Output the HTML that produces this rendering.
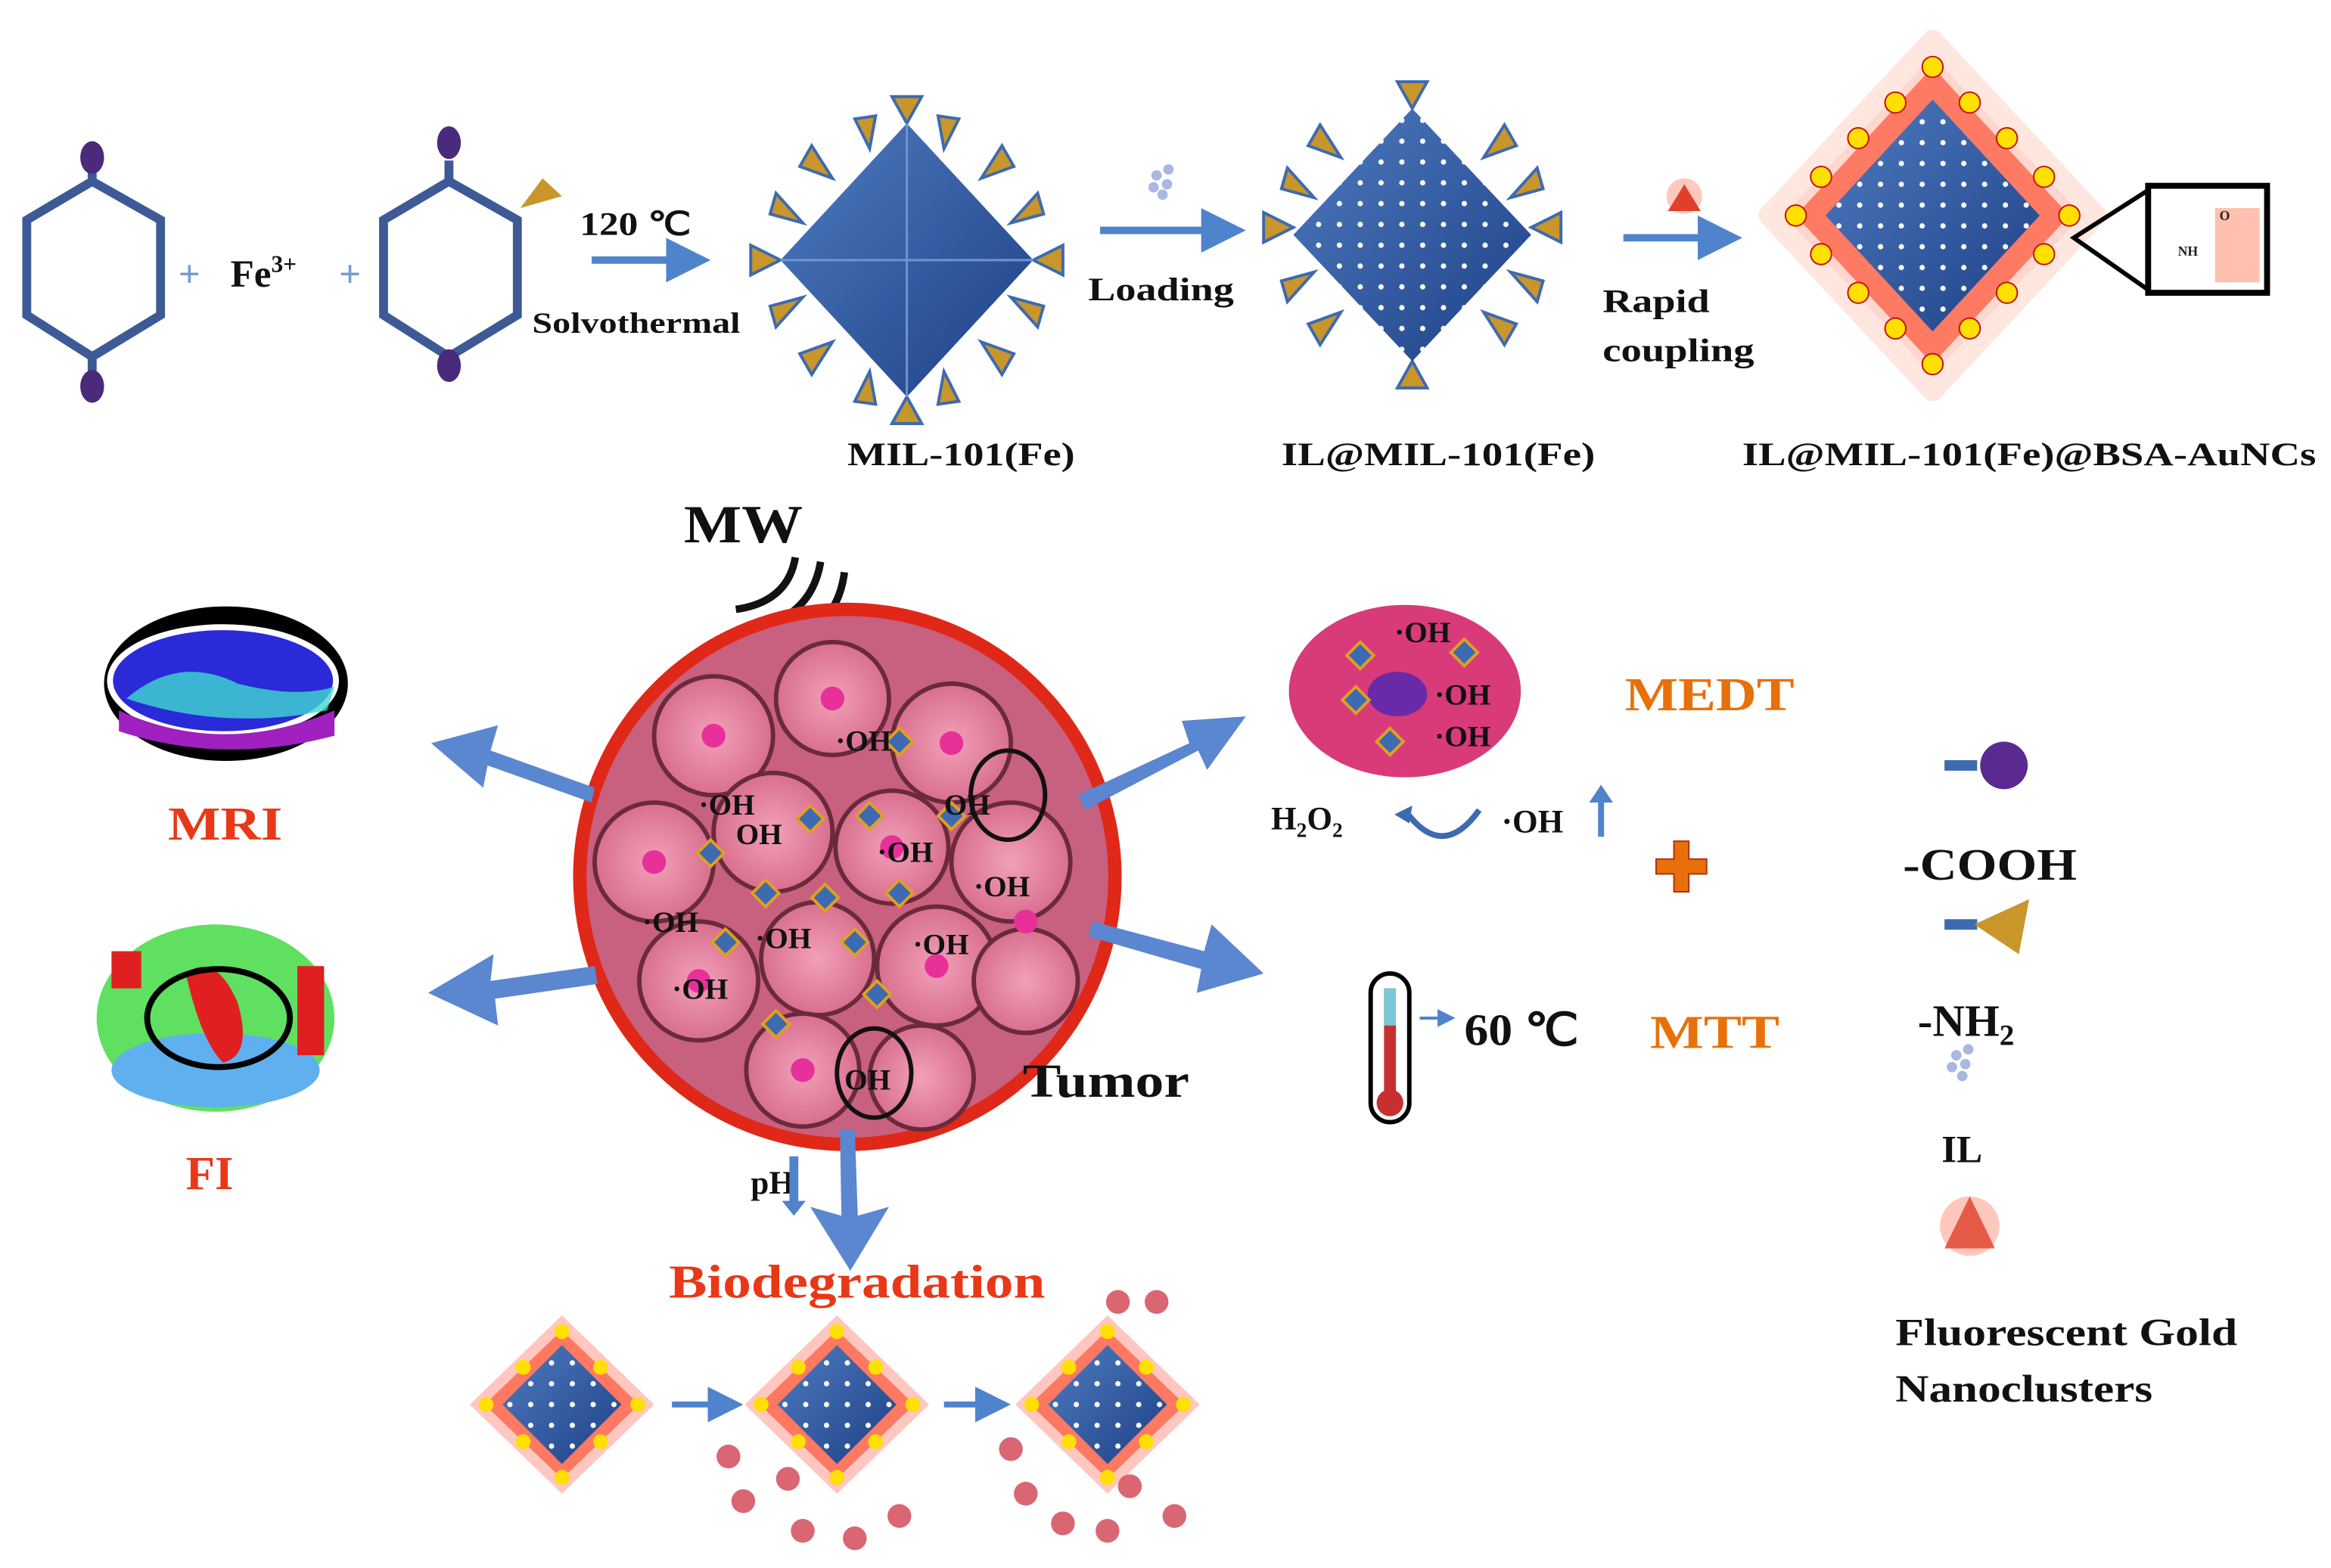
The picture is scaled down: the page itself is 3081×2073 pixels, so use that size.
<!DOCTYPE html>
<html><head><meta charset="utf-8"><style>
html,body{margin:0;padding:0;background:#fff;}
svg{display:block;}
text{font-family:"Liberation Serif",serif;font-weight:bold;}
</style></head><body>
<svg width="3081" height="2073" viewBox="0 0 1568 1055" xmlns="http://www.w3.org/2000/svg">
<defs>
<linearGradient id="oct" x1="0" y1="0" x2="1" y2="1">
<stop offset="0" stop-color="#4f7cc0"/><stop offset="1" stop-color="#1d3f86"/></linearGradient>
<radialGradient id="cell"><stop offset="0" stop-color="#f2a0b8"/><stop offset="1" stop-color="#d86f8f"/></radialGradient>
<pattern id="dots" width="14" height="14" patternUnits="userSpaceOnUse"><circle cx="7" cy="7" r="1.8" fill="#fff"/></pattern>
<marker id="ah" markerWidth="6" markerHeight="6" refX="4" refY="3" orient="auto"><path d="M0,0 L6,3 L0,6 z" fill="#4f83cc"/></marker>
</defs>

<g fill="none" stroke="#3d5a96" stroke-width="6">
<path d="M62,122 L108,148 L108,212 L62,240 L18,212 L18,148 Z"/>
<line x1="62" y1="108" x2="62" y2="122"/><line x1="62" y1="240" x2="62" y2="256"/>
<path d="M302,122 L348,148 L348,212 L302,240 L258,212 L258,148 Z"/>
<line x1="302" y1="108" x2="302" y2="122"/><line x1="302" y1="240" x2="302" y2="256"/>
</g>
<g fill="#4a2a7a"><ellipse cx="62" cy="106" rx="8" ry="11"/><ellipse cx="62" cy="260" rx="8" ry="11"/>
<ellipse cx="302" cy="96" rx="8" ry="11"/><ellipse cx="302" cy="246" rx="8" ry="11"/></g>
<path d="M350,140 L365,120 L378,132 Z" fill="#c8962a"/>
<text x="120" y="193" font-size="26" fill="#7a9ad0" font-weight="normal">+</text>
<text x="155" y="193" font-size="26" fill="#111">Fe<tspan font-size="16" dy="-10">3+</tspan></text>
<text x="228" y="193" font-size="26" fill="#7a9ad0" font-weight="normal">+</text>
<text x="390" y="158" font-size="22" fill="#111" textLength="75" lengthAdjust="spacingAndGlyphs">120 ℃</text>
<line x1="398" y1="175" x2="468" y2="175" stroke="#4f83cc" stroke-width="5" marker-end="url(#ah)"/>
<text x="358" y="224" font-size="20" fill="#111" textLength="140" lengthAdjust="spacingAndGlyphs">Solvothermal</text>

<g transform="translate(610,175)">
<g stroke="#3d6ab0" stroke-width="2" fill="#c8962a">
<path d="M-85,0 l-20,-10 l0,20 z"/><path d="M85,0 l20,-10 l0,20 z"/><path d="M0,-92 l-10,-18 l20,0 z"/><path d="M0,92 l-10,18 l20,0 z"/>
<path d="M-50,-55 l-22,-8 l8,-14 z"/><path d="M50,-55 l22,-8 l-8,-14 z"/><path d="M-50,55 l-22,8 l8,14 z"/><path d="M50,55 l22,8 l-8,14 z"/>
<path d="M-70,-25 l-22,-6 l4,-14 z"/><path d="M70,-25 l22,-6 l-4,-14 z"/><path d="M-70,25 l-22,6 l4,14 z"/><path d="M70,25 l22,6 l-4,14 z"/>
<path d="M-25,-75 l-10,-20 l14,-2 z"/><path d="M25,-75 l10,-20 l-14,-2 z"/><path d="M-25,75 l-10,20 l14,2 z"/><path d="M25,75 l10,20 l-14,2 z"/>
</g>
<path d="M0,-92 L85,0 L0,92 L-85,0 Z" fill="url(#oct)"/>
<path d="M0,-92 L0,92 M-85,0 L85,0" stroke="#6d95d6" stroke-width="1.5"/>
</g>
<text x="570" y="313" font-size="22" fill="#111" textLength="153" lengthAdjust="spacingAndGlyphs">MIL-101(Fe)</text>
<g fill="#a8b8e0"><circle cx="778" cy="118" r="3.5"/><circle cx="785" cy="124" r="3.5"/><circle cx="776" cy="126" r="3.5"/><circle cx="786" cy="114" r="3.5"/><circle cx="782" cy="131" r="3.5"/></g>
<line x1="740" y1="155" x2="828" y2="155" stroke="#4f83cc" stroke-width="5" marker-end="url(#ah)"/>
<text x="732" y="202" font-size="22" fill="#111" textLength="98" lengthAdjust="spacingAndGlyphs">Loading</text>

<g transform="translate(950,158)">
<g stroke="#3d6ab0" stroke-width="2" fill="#c8962a">
<path d="M-80,-5 l-20,-10 l0,20 z"/><path d="M80,-5 l20,-10 l0,20 z"/><path d="M0,-85 l-10,-18 l20,0 z"/><path d="M0,85 l-10,18 l20,0 z"/>
<path d="M-48,-52 l-22,-8 l8,-14 z"/><path d="M48,-52 l22,-8 l-8,-14 z"/><path d="M-48,52 l-22,8 l8,14 z"/><path d="M48,52 l22,8 l-8,14 z"/>
<path d="M-66,-25 l-22,-6 l4,-14 z"/><path d="M66,25 l22,6 l-4,14 z"/><path d="M-66,25 l-22,6 l4,14 z"/><path d="M66,-25 l22,-6 l-4,-14 z"/>
</g>
<path d="M0,-85 L80,0 L0,85 L-80,0 Z" fill="url(#oct)"/>
<path d="M0,-85 L80,0 L0,85 L-80,0 Z" fill="url(#dots)"/>
</g>
<text x="862" y="313" font-size="22" fill="#111" textLength="211" lengthAdjust="spacingAndGlyphs">IL@MIL-101(Fe)</text>
<g><circle cx="1133" cy="132" r="12" fill="#ffb0a0" opacity="0.7"/><path d="M1122,142 L1133,124 L1144,142 Z" fill="#e0402a"/></g>
<line x1="1092" y1="160" x2="1162" y2="160" stroke="#4f83cc" stroke-width="5" marker-end="url(#ah)"/>
<text x="1078" y="210" font-size="22" fill="#111" textLength="72" lengthAdjust="spacingAndGlyphs">Rapid</text>
<text x="1078" y="243" font-size="22" fill="#111" textLength="102" lengthAdjust="spacingAndGlyphs">coupling</text>

<g transform="translate(1300,145)">
<path d="M0,-118 L110,0 L0,118 L-110,0 Z" fill="#ffb0a0" opacity="0.5" stroke="#ffd0c0" stroke-width="14" stroke-linejoin="round"/>
<path d="M0,-100 L92,0 L0,100 L-92,0 Z" fill="#ff6a50" opacity="0.85"/>
<path d="M0,-78 L72,0 L0,78 L-72,0 Z" fill="url(#oct)"/>
<path d="M0,-78 L72,0 L0,78 L-72,0 Z" fill="url(#dots)"/>
<g fill="#ffe000" stroke="#c81010" stroke-width="1">
<circle cx="0" cy="-100" r="7"/><circle cx="-25" cy="-76" r="7"/><circle cx="25" cy="-76" r="7"/><circle cx="-50" cy="-52" r="7"/><circle cx="50" cy="-52" r="7"/><circle cx="-75" cy="-26" r="7"/><circle cx="75" cy="-26" r="7"/><circle cx="-92" cy="0" r="7"/><circle cx="92" cy="0" r="7"/>
<circle cx="0" cy="100" r="7"/><circle cx="-25" cy="76" r="7"/><circle cx="25" cy="76" r="7"/><circle cx="-50" cy="52" r="7"/><circle cx="50" cy="52" r="7"/><circle cx="-75" cy="26" r="7"/><circle cx="75" cy="26" r="7"/>
</g>
</g>
<path d="M1395,160 L1445,128 L1445,195 Z" fill="none" stroke="#000" stroke-width="3"/>
<rect x="1445" y="125" width="80" height="72" fill="#fff" stroke="#000" stroke-width="4"/>
<rect x="1490" y="140" width="30" height="50" fill="#ffc0b0"/>
<text x="1465" y="172" font-size="9" fill="#222">NH</text><text x="1493" y="148" font-size="9" fill="#222">O</text>
<text x="1172" y="313" font-size="22" fill="#111" textLength="386" lengthAdjust="spacingAndGlyphs">IL@MIL-101(Fe)@BSA-AuNCs</text>

<text x="460" y="365" font-size="36" fill="#111" textLength="80" lengthAdjust="spacingAndGlyphs">MW</text>
<g fill="none" stroke="#111" stroke-width="5">
<path d="M495,410 Q530,405 535,375"/><path d="M495,425 Q545,420 552,378"/><path d="M495,442 Q562,435 568,385"/></g>

<circle cx="570" cy="590" r="180" fill="#c86080" stroke="#e02818" stroke-width="9"/>
<g fill="url(#cell)" stroke="#6a2a3a" stroke-width="3">
<circle cx="480" cy="495" r="40"/><circle cx="560" cy="470" r="38"/><circle cx="640" cy="500" r="40"/><circle cx="440" cy="580" r="40"/>
<circle cx="520" cy="560" r="40"/><circle cx="600" cy="570" r="38"/><circle cx="680" cy="580" r="40"/><circle cx="470" cy="660" r="40"/>
<circle cx="550" cy="645" r="38"/><circle cx="630" cy="650" r="40"/><circle cx="690" cy="660" r="35"/><circle cx="540" cy="720" r="38"/><circle cx="620" cy="725" r="35"/>
</g>
<g fill="#e8309a"><circle cx="480" cy="495" r="8"/><circle cx="560" cy="470" r="8"/><circle cx="640" cy="500" r="8"/><circle cx="440" cy="580" r="8"/><circle cx="600" cy="570" r="8"/><circle cx="470" cy="660" r="8"/><circle cx="630" cy="650" r="8"/><circle cx="540" cy="720" r="8"/><circle cx="690" cy="620" r="8"/></g>
<g fill="#3d6ab0" stroke="#e0a020" stroke-width="2">
<path d="M545,542 l9,9 l-9,9 l-9,-9z"/><path d="M585,540 l9,9 l-9,9 l-9,-9z"/><path d="M478,565 l9,9 l-9,9 l-9,-9z"/><path d="M515,592 l9,9 l-9,9 l-9,-9z"/><path d="M555,595 l9,9 l-9,9 l-9,-9z"/><path d="M605,592 l9,9 l-9,9 l-9,-9z"/><path d="M488,625 l9,9 l-9,9 l-9,-9z"/><path d="M575,625 l9,9 l-9,9 l-9,-9z"/><path d="M590,660 l9,9 l-9,9 l-9,-9z"/><path d="M522,680 l9,9 l-9,9 l-9,-9z"/><path d="M605,490 l9,9 l-9,9 l-9,-9z"/><path d="M640,540 l9,9 l-9,9 l-9,-9z"/>
</g>
<g font-size="20" fill="#111"><text x="562" y="505">·OH</text><text x="470" y="548">·OH</text><text x="495" y="568">OH</text><text x="590" y="580">·OH</text><text x="635" y="548">OH</text><text x="655" y="603">·OH</text><text x="432" y="627">·OH</text><text x="508" y="638">·OH</text><text x="614" y="642">·OH</text><text x="452" y="672">·OH</text><text x="568" y="733">OH</text></g>
<ellipse cx="678" cy="535" rx="25" ry="30" fill="none" stroke="#111" stroke-width="3"/>
<ellipse cx="588" cy="722" rx="25" ry="30" fill="none" stroke="#111" stroke-width="3"/>
<text x="688" y="738" font-size="32" fill="#111" textLength="112" lengthAdjust="spacingAndGlyphs">Tumor</text>

<g fill="#5b86d0">
<path d="M400,530 L330,505 L335,488 L290,500 L325,530 L328,515 L398,540 Z"/>
<path d="M400,650 L330,660 L332,642 L288,668 L335,690 L333,672 L402,662 Z"/>
<path d="M725,535 L800,500 L795,485 L838,482 L812,518 L806,505 L730,545 Z"/>
<path d="M735,620 L810,640 L815,622 L850,655 L805,668 L808,652 L732,630 Z"/>
<path d="M565,760 L575,760 L577,818 L598,812 L572,855 L545,812 L566,818 Z"/>
</g>

<ellipse cx="152" cy="460" rx="82" ry="52" fill="#000"/>
<ellipse cx="150" cy="458" rx="76" ry="36" fill="#2a2ad8" stroke="#fff" stroke-width="4"/>
<path d="M85,470 Q120,440 160,460 Q200,470 225,462 L220,478 Q150,492 85,470Z" fill="#40d8d0" opacity="0.8"/>
<path d="M80,478 Q150,510 225,478 L225,495 Q150,515 80,492Z" fill="#a020c0"/>
<text x="113" y="565" font-size="32" fill="#e83818" textLength="77" lengthAdjust="spacingAndGlyphs">MRI</text>
<ellipse cx="145" cy="685" rx="80" ry="63" fill="#60e060"/>
<ellipse cx="145" cy="720" rx="70" ry="25" fill="#60b0f0"/>
<path d="M125,655 Q145,640 160,675 Q170,710 150,715 Q135,700 125,655Z" fill="#e02020"/>
<rect x="75" y="640" width="20" height="25" fill="#e02020"/><rect x="200" y="650" width="18" height="60" fill="#e02020"/>
<ellipse cx="147" cy="685" rx="48" ry="33" fill="none" stroke="#000" stroke-width="4"/>
<text x="125" y="800" font-size="32" fill="#e83818">FI</text>

<ellipse cx="945" cy="465" rx="78" ry="58" fill="#d83a7a"/>
<ellipse cx="940" cy="467" rx="20" ry="15" fill="#6a2aa8"/>
<g fill="#3d6ab0" stroke="#e0a020" stroke-width="2"><path d="M915,432 l9,9 l-9,9 l-9,-9z"/><path d="M985,430 l9,9 l-9,9 l-9,-9z"/><path d="M912,462 l9,9 l-9,9 l-9,-9z"/><path d="M935,490 l9,9 l-9,9 l-9,-9z"/></g>
<g font-size="20" fill="#111"><text x="938" y="432">·OH</text><text x="965" y="474">·OH</text><text x="965" y="502">·OH</text></g>
<text x="1093" y="478" font-size="32" fill="#e8700a" textLength="114" lengthAdjust="spacingAndGlyphs">MEDT</text>
<text x="855" y="558" font-size="22" fill="#111">H<tspan font-size="14" dy="5">2</tspan><tspan dy="-5">O</tspan><tspan font-size="14" dy="5">2</tspan></text>
<path d="M945,545 Q970,580 995,545" fill="none" stroke="#3d6ab0" stroke-width="4"/>
<path d="M938,548 l12,-6 l-2,12z" fill="#3d6ab0"/>
<text x="1010" y="560" font-size="22" fill="#111">·OH</text>
<path d="M1075,563 L1075,540 L1069,540 L1077,528 L1085,540 L1079,540 L1079,563Z" fill="#4f83cc"/>
<path d="M1114,578 h12 v-12 h10 v12 h12 v10 h-12 v12 h-10 v-12 h-12z" fill="#e8700a" stroke="#b03010" stroke-width="1"/>
<rect x="922" y="655" width="26" height="100" rx="13" fill="#fff" stroke="#000" stroke-width="3"/>
<rect x="931" y="665" width="8" height="70" fill="#c83030"/><rect x="931" y="665" width="8" height="25" fill="#7ac8d8"/>
<circle cx="935" cy="742" r="9" fill="#c83030"/>
<line x1="955" y1="685" x2="975" y2="685" stroke="#4f83cc" stroke-width="2" marker-end="url(#ah)"/>
<text x="985" y="703" font-size="30" fill="#111" textLength="77" lengthAdjust="spacingAndGlyphs">60 ℃</text>
<text x="1110" y="705" font-size="32" fill="#e8700a" textLength="87" lengthAdjust="spacingAndGlyphs">MTT</text>

<line x1="1308" y1="515" x2="1330" y2="515" stroke="#3d6ab0" stroke-width="7"/>
<circle cx="1348" cy="515" r="16" fill="#5a2a90"/>
<text x="1280" y="592" font-size="30" fill="#111" textLength="117" lengthAdjust="spacingAndGlyphs">-COOH</text>
<line x1="1308" y1="622" x2="1330" y2="622" stroke="#3d6ab0" stroke-width="7"/>
<path d="M1328,622 L1365,605 L1358,642 Z" fill="#c8962a"/>
<text x="1290" y="697" font-size="30" fill="#111">-NH<tspan font-size="20" dy="6">2</tspan></text>
<g fill="#a8b8e0"><circle cx="1316" cy="710" r="3.5"/><circle cx="1322" cy="716" r="3.5"/><circle cx="1313" cy="718" r="3.5"/><circle cx="1324" cy="706" r="3.5"/><circle cx="1320" cy="724" r="3.5"/></g>
<text x="1306" y="782" font-size="26" fill="#111">IL</text>
<circle cx="1325" cy="825" r="20" fill="#ffb0a0" opacity="0.7"/><path d="M1308,840 L1325,805 L1342,840 Z" fill="#e0402a" opacity="0.8"/>
<text x="1275" y="905" font-size="26" fill="#111" textLength="230" lengthAdjust="spacingAndGlyphs">Fluorescent Gold</text>
<text x="1275" y="943" font-size="26" fill="#111" textLength="173" lengthAdjust="spacingAndGlyphs">Nanoclusters</text>

<text x="505" y="803" font-size="22" fill="#111">pH</text>
<path d="M531,778 L531,808 L526,808 L534,818 L542,808 L537,808 L537,778Z" fill="#4f83cc"/>
<text x="450" y="873" font-size="32" fill="#e83818" textLength="253" lengthAdjust="spacingAndGlyphs">Biodegradation</text>
<g id="np">
<path d="M378,885 L440,945 L378,1005 L316,945 Z" fill="#ff9080" opacity="0.5"/>
<path d="M378,895 L430,945 L378,995 L326,945 Z" fill="#ff6a50" opacity="0.85"/>
<path d="M378,905 L418,945 L378,985 L338,945 Z" fill="url(#oct)"/>
<path d="M378,905 L418,945 L378,985 L338,945 Z" fill="url(#dots)"/>
<g fill="#ffe000"><circle cx="378" cy="896" r="5"/><circle cx="404" cy="920" r="5"/><circle cx="352" cy="920" r="5"/><circle cx="429" cy="945" r="5"/><circle cx="327" cy="945" r="5"/><circle cx="404" cy="970" r="5"/><circle cx="352" cy="970" r="5"/><circle cx="378" cy="994" r="5"/></g>
</g>
<line x1="452" y1="945" x2="492" y2="945" stroke="#4f83cc" stroke-width="4" marker-end="url(#ah)"/>
<use href="#np" x="185"/>
<line x1="635" y1="945" x2="672" y2="945" stroke="#4f83cc" stroke-width="4" marker-end="url(#ah)"/>
<use href="#np" x="367"/>
<g fill="#d04050" opacity="0.8">
<circle cx="490" cy="980" r="8"/><circle cx="500" cy="1010" r="8"/><circle cx="530" cy="995" r="8"/><circle cx="575" cy="1035" r="8"/><circle cx="605" cy="1020" r="8"/><circle cx="540" cy="1030" r="8"/>
<circle cx="680" cy="975" r="8"/><circle cx="690" cy="1005" r="8"/><circle cx="715" cy="1025" r="8"/><circle cx="745" cy="1030" r="8"/><circle cx="790" cy="1020" r="8"/><circle cx="760" cy="1000" r="8"/><circle cx="752" cy="876" r="8"/><circle cx="778" cy="876" r="8"/>
</g>
</svg>
</body></html>
